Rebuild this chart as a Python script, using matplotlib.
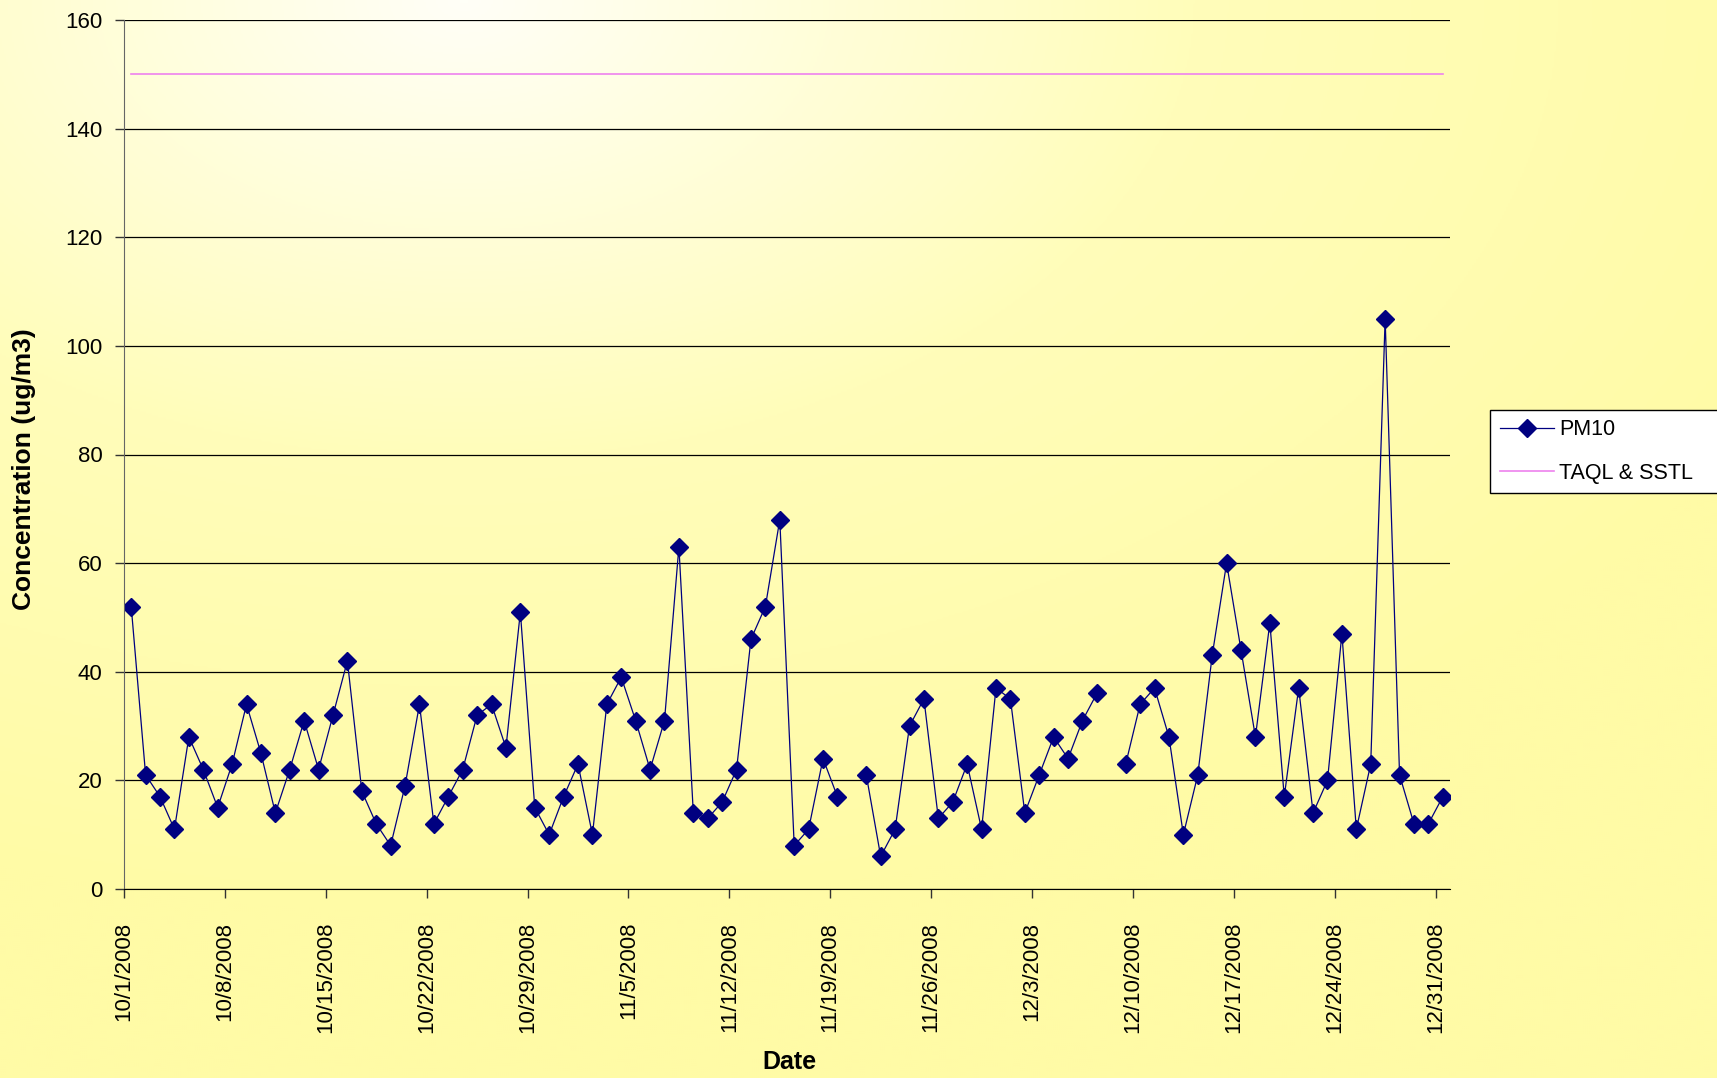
import numpy as np
import pandas as pd
from matplotlib import pyplot as plt
from matplotlib.colors import LinearSegmentedColormap

plt.rcParams['font.family'] = ['Liberation Sans', 'DejaVu Sans']

# daily PM10, Oct-Dec 2008 (nan = no sample)
dates = pd.date_range("2008-10-01", "2008-12-31", freq="D")
pm10 = [52, 21, 17, 11, 28, 22, 15, 23, 34, 25, 14, 22, 31, 22, 32, 42,
        18, 12, 8, 19, 34, 12, 17, 22, 32, 34, 26, 51, 15, 10, 17,
        23, 10, 34, 39, 31, 22, 31, 63, 14, 13, 16, 22, 46, 52, 68, 8,
        11, 24, 17, np.nan, 21, 6, 11, 30, 35, 13, 16, 23, 11, 37,
        35, 14, 21, 28, 24, 31, 36, np.nan, 23, 34, 37, 28, 10, 21, 43,
        60, 44, 28, 49, 17, 37, 14, 20, 47, 11, 23, 105, 21, 12, 12, 17]
taql_sstl = [150] * len(dates)
tick_dates = dates[::7]
tick_labels = [f"{d.month}/{d.day}/{d.year}" for d in tick_dates]
y_ticks = [0, 20, 40, 60, 80, 100, 120, 140, 160]

fig = plt.figure(figsize=(17.17, 10.78), dpi=100)

# background gradient (white near the top left, pale yellow outward)
bg = fig.add_axes([0, 0, 1, 1], zorder=-10)
yy, xx = np.mgrid[0:1:540j, 0:1:860j]
dist = np.sqrt(((xx - 0.27) / 0.85) ** 2 + (yy / 0.85) ** 2)
cmap = LinearSegmentedColormap.from_list("bg", ["#FFFFF7", "#FFFDBA", "#FFFBA6"])
bg.imshow(np.clip(dist, 0, 1), cmap=cmap, aspect="auto", extent=[0, 1, 0, 1],
          vmin=0, vmax=1)
bg.axis("off")

ax = fig.add_axes([124 / 1717, 1 - 889 / 1078, (1450 - 124) / 1717, (889 - 20) / 1078])
ax.set_facecolor("none")

mid_day = dates + pd.Timedelta(hours=12)
ax.plot(mid_day, pm10, color="#000080", lw=0.9, marker="D", markersize=9,
        markerfacecolor="#000080", markeredgecolor="#000080", label="PM10")
ax.plot(mid_day, taql_sstl, color="#EE82EE", lw=1.2, label="TAQL & SSTL")

ax.set_xlim(pd.Timestamp("2008-10-01"), pd.Timestamp("2009-01-01"))
ax.set_ylim(0, 160)
ax.set_yticks(y_ticks)
ax.set_xticks(tick_dates)
ax.set_xticklabels(tick_labels, rotation=90)
ax.tick_params(axis="both", labelsize=16, direction="out", length=6.5, width=1,
               color="#333333")
ax.tick_params(axis="x", pad=17)
ax.tick_params(axis="y", pad=9)
ax.yaxis.grid(True, color="black", lw=0.9)
ax.set_axisbelow(True)
for side in ["top", "right"]:
    ax.spines[side].set_visible(False)
ax.spines["left"].set_color("#666666")
ax.spines["bottom"].set_color("black")

fig.text(24 / 1717, 1 - 469 / 1078, "Concentration (ug/m3)", rotation=90,
         ha="center", va="center", fontsize=19, fontweight="bold")
fig.text(789 / 1717, 1 - 1062 / 1078, "Date", ha="center", va="center",
         fontsize=18, fontweight="bold")

leg = fig.legend(loc="center left", bbox_to_anchor=(1490 / 1717, 1 - 494 / 1078, 0.14, 85 / 1078),
                 mode="expand", fontsize=15.5, frameon=True, fancybox=False,
                 framealpha=1, edgecolor="black", borderpad=0.45,
                 labelspacing=1.05, handlelength=2.5, handletextpad=0.25,
                 borderaxespad=0)
leg.get_frame().set_linewidth(1)

fig.savefig("out.png", dpi=100)
